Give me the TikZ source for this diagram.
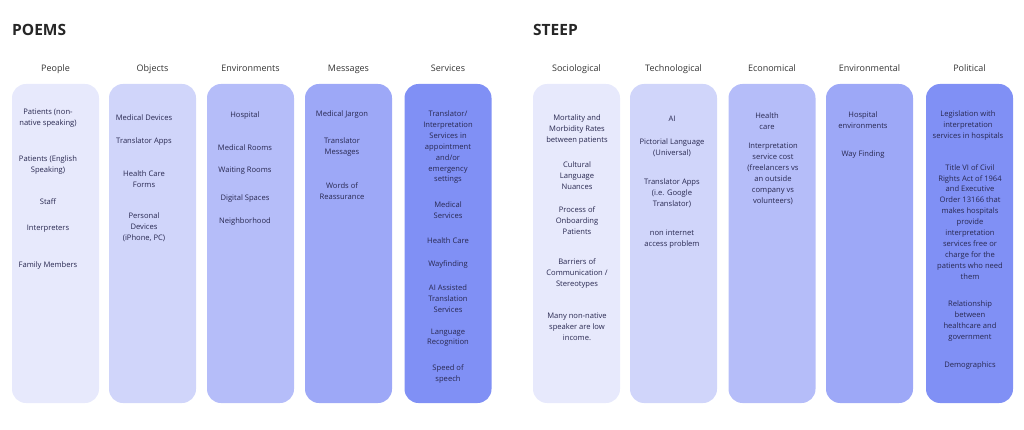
\documentclass[tikz,border=0pt]{standalone}
\usepackage{fontspec}
\setmainfont{Open Sans}

\definecolor{toneA}{RGB}{231,233,252}
\definecolor{toneB}{RGB}{208,213,250}
\definecolor{toneC}{RGB}{181,189,249}
\definecolor{toneD}{RGB}{157,168,247}
\definecolor{toneE}{RGB}{128,144,245}
\definecolor{ink}{RGB}{40,40,80}

\tikzset{
    tile/.style = {rounded corners = 14pt, minimum width = 87pt, minimum height = 319pt, inner sep = 0pt},
    heading/.style = {font = \fontsize{15.5}{18}\selectfont\bfseries, text = black!85, anchor = west, inner sep = 0pt},
    aspect/.style = {font = \fontsize{9}{11}\selectfont, text = black!80, anchor = base, inner sep = 0pt},
    entry/.style = {font = \fontsize{7.6}{10.9}\selectfont, text = ink, align = center, inner sep = 0pt},
}

\begin{document}
\begin{tikzpicture}[x = 1pt, y = -1pt]
    \useasboundingbox (0, 0) rectangle (1024, 430);

    \node [heading] (poems) at (12, 30) {POEMS};
    \node [heading] (steep) at (533, 30) {STEEP};

    % columns
    \foreach \name/\x/\tone/\title in {
            people/55.5/toneA/People, objects/152.5/toneB/Objects,
            environments/250.5/toneC/Environments, messages/348.5/toneD/Messages,
            services/448/toneE/Services,
            sociological/576.5/toneA/Sociological, technological/673.5/toneB/Technological,
            economical/772/toneC/Economical, environmental/869.5/toneD/Environmental,
            political/969.5/toneE/Political} {
        \node [tile, fill = \tone] (\name) at (\x, 243.5) {};
        \node [aspect] (\name-title) at (\x, 72) {\title};
    }

    % POEMS
    \node [entry] (pe1) at (48, 118.5) {Patients (non-\\native speaking)};
    \node [entry] (pe2) at (48, 164.7) {Patients (English\\Speaking)};
    \node [entry] (pe3) at (48, 201.7) {Staff};
    \node [entry] (pe4) at (48, 229) {Interpreters};
    \node [entry] (pe5) at (48, 265.7) {Family Members};

    \node [entry] (ob1) at (144, 117.3) {Medical Devices};
    \node [entry] (ob2) at (144, 142) {Translator Apps};
    \node [entry] (ob3) at (144, 179) {Health Care\\Forms};
    \node [entry] (ob4) at (144, 227) {Personal\\Devices\\(iPhone, PC)};

    \node [entry] (en1) at (245, 116) {Hospital};
    \node [entry] (en2) at (245, 147.7) {Medical Rooms};
    \node [entry] (en3) at (245, 171) {Waiting Rooms};
    \node [entry] (en4) at (245, 198.3) {Digital Spaces};
    \node [entry] (en5) at (245, 221.7) {Neighborhood};

    \node [entry] (me1) at (342, 114.7) {Medical Jargon};
    \node [entry] (me2) at (342, 147.3) {Translator\\Messages};
    \node [entry] (me3) at (342, 190.8) {Words of\\Reassurance};

    \node [entry] (se1) at (448, 147.3) {Translator/\\Interpretation\\Services in\\appointment\\and/or\\emergency\\settings};
    \node [entry] (se2) at (448, 210) {Medical\\Services};
    \node [entry] (se3) at (448, 241) {Health Care};
    \node [entry] (se4) at (448, 264.3) {Wayfinding};
    \node [entry] (se5) at (448, 298.7) {AI Assisted\\Translation\\Services};
    \node [entry] (se6) at (448, 337.7) {Language\\Recognition};
    \node [entry] (se7) at (448, 374.2) {Speed of\\speech};

    % STEEP
    \node [entry] (so1) at (577, 129.3) {Mortality and\\Morbidity Rates\\between patients};
    \node [entry] (so2) at (577, 176) {Cultural\\Language\\Nuances};
    \node [entry] (so3) at (577, 220.7) {Process of\\Onboarding\\Patients};
    \node [entry] (so4) at (577, 273.8) {Barriers of\\Communication /\\Stereotypes};
    \node [entry] (so5) at (577, 326.4) {Many non-native\\speaker are low\\income.};

    \node [entry] (te1) at (672, 118.3) {AI};
    \node [entry] (te2) at (672, 147.7) {Pictorial Language\\(Universal)};
    \node [entry] (te3) at (672, 193.3) {Translator Apps\\(i.e. Google\\Translator)};
    \node [entry] (te4) at (672, 239.3) {non internet\\access problem};

    \node [entry] (ec1) at (767, 121.5) {Health\\care};
    \node [entry] (ec2) at (773, 173.7) {Interpretation\\service cost\\(freelancers vs\\an outside\\company vs\\volunteers)};

    \node [entry] (ev1) at (863, 120.2) {Hospital\\environments};
    \node [entry] (ev2) at (863, 155) {Way Finding};

    \node [entry] (po1) at (968, 125.5) {Legislation with\\interpretation\\services in hospitals};
    \node [entry] (po2) at (970, 221.8) {Title VI of Civil\\Rights Act of 1964\\and Executive\\Order 13166 that\\makes hospitals\\provide\\interpretation\\services free or\\charge for the\\patients who need\\them};
    \node [entry] (po3) at (970, 321) {Relationship\\between\\healthcare and\\government};
    \node [entry] (po4) at (970, 365.7) {Demographics};
\end{tikzpicture}
\end{document}
